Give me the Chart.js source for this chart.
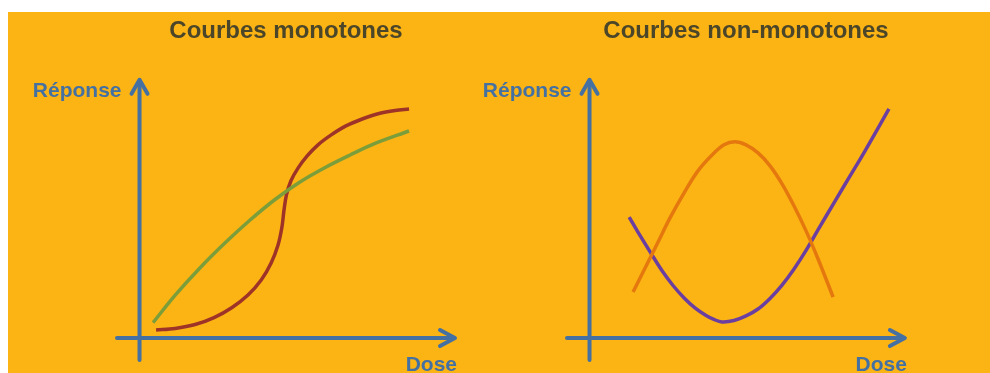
<!DOCTYPE html>
<html lang="fr">
<head>
<meta charset="utf-8">
<title>Courbes dose-réponse</title>
<script src="https://cdn.jsdelivr.net/npm/chart.js@4.4.1/dist/chart.umd.min.js"></script>
<style>
  html, body { margin: 0; padding: 0; background: #ffffff; }
  body { width: 990px; height: 373px; position: relative; overflow: hidden; }
  #fond { position: absolute; left: 8px; top: 12px; width: 982px; height: 361px; background: #fcb414; }
  .panneau { position: absolute; top: 12px; height: 361px; }
  #p-gauche { left: 8px; width: 462px; }
  #p-droite { left: 470px; width: 520px; }
</style>
</head>
<body>
<div id="fond"></div>
<div class="panneau" id="p-gauche"><canvas id="chartMonotones"></canvas></div>
<div class="panneau" id="p-droite"><canvas id="chartNonMonotones"></canvas></div>

<script>
// étendue des axes (unités de dose / réponse)
const axeDose = [-0.75, 10.5];
const axeReponse = [-0.95, 11.2];

// courbes monotones
const doseVert = [0.45, 1.18, 2.01, 2.85, 3.68, 4.51, 5.34, 6.18, 7.01, 7.84, 8.97];
const reponseVert = [0.67, 1.85, 3.04, 4.13, 5.12, 6.01, 6.77, 7.40, 7.94, 8.44, 8.98];

const doseRouge = [0.55, 1.18, 1.85, 2.48, 3.08, 3.61, 4.05, 4.38, 4.61, 4.74, 4.81,
                   4.89, 5.04, 5.28, 5.58, 5.94, 6.38, 6.87, 7.41, 7.97, 8.51, 8.97];
const reponseRouge = [0.35, 0.42, 0.59, 0.89, 1.33, 1.87, 2.52, 3.26, 4.04, 4.82, 5.56,
                      6.21, 6.82, 7.38, 7.90, 8.38, 8.81, 9.20, 9.50, 9.74, 9.87, 9.93];

// courbes non-monotones
const doseOrange = [1.45, 1.85, 2.25, 2.68, 3.15, 3.61, 4.08, 4.48, 4.84, 5.21, 5.61,
                    6.01, 6.41, 6.81, 7.21, 7.61, 8.11];
const reponseOrange = [2.00, 3.04, 4.08, 5.21, 6.30, 7.25, 7.94, 8.38, 8.51, 8.38, 8.03,
                       7.47, 6.69, 5.73, 4.65, 3.43, 1.78];

const doseViolet = [1.32, 1.68, 2.05, 2.41, 2.78, 3.15, 3.51, 3.88, 4.14, 4.41, 4.81,
                    5.21, 5.61, 6.01, 6.41, 6.81, 7.21, 7.67, 8.17, 8.67, 9.17, 9.97];
const reponseViolet = [5.25, 4.45, 3.67, 2.93, 2.28, 1.74, 1.31, 0.98, 0.81, 0.70, 0.76,
                       0.96, 1.26, 1.72, 2.30, 3.00, 3.80, 4.83, 5.93, 7.02, 8.11, 9.94];

const BLEU = '#4470a2';
const TITRE = '#4b4629';

function points(xs, ys) {
  return xs.map((x, i) => ({ x: x, y: ys[i] }));
}

function courbe(xs, ys, couleur) {
  return {
    data: points(xs, ys),
    showLine: true,
    borderColor: couleur,
    borderWidth: 3.5,
    pointRadius: 0,
    tension: 0.35,
    fill: false
  };
}

// axes fléchés + libellés "Réponse" / "Dose"
const axesFleches = {
  id: 'axesFleches',
  beforeDatasetsDraw(chart) {
    const { ctx, scales: { x, y } } = chart;
    const x0 = x.getPixelForValue(0);
    const y0 = y.getPixelForValue(0);
    const xa = x.getPixelForValue(axeDose[0]);
    const xb = x.getPixelForValue(axeDose[1]);
    const ya = y.getPixelForValue(axeReponse[0]);
    const yb = y.getPixelForValue(axeReponse[1]);

    ctx.save();
    ctx.strokeStyle = BLEU;
    ctx.lineWidth = 4;
    ctx.lineCap = 'round';
    ctx.lineJoin = 'round';

    ctx.beginPath();
    ctx.moveTo(xa, y0);
    ctx.lineTo(xb - 2, y0);
    ctx.moveTo(x0, ya);
    ctx.lineTo(x0, yb + 2);
    ctx.stroke();

    ctx.beginPath();
    ctx.moveTo(xb - 15, y0 - 8);
    ctx.lineTo(xb, y0);
    ctx.lineTo(xb - 15, y0 + 8);
    ctx.moveTo(x0 - 8, yb + 14);
    ctx.lineTo(x0, yb);
    ctx.lineTo(x0 + 8, yb + 14);
    ctx.stroke();

    ctx.fillStyle = BLEU;
    ctx.font = 'bold 21px "Liberation Sans", Arial, sans-serif';
    ctx.textBaseline = 'middle';
    ctx.textAlign = 'right';
    ctx.fillText('Réponse', x0 - 18, yb + 11);
    ctx.fillText('Dose', xb + 2, y0 + 27);
    ctx.restore();
  }
};

function options(titre, xMax, marge) {
  return {
    responsive: true,
    maintainAspectRatio: false,
    animation: false,
    layout: { padding: marge },
    scales: {
      x: { type: 'linear', display: false, min: axeDose[0], max: xMax },
      y: { type: 'linear', display: false, min: axeReponse[0], max: axeReponse[1] }
    },
    plugins: {
      legend: { display: false },
      tooltip: { enabled: false },
      title: {
        display: true,
        text: titre,
        color: TITRE,
        font: { family: '"Liberation Sans", Arial, sans-serif', size: 24, weight: 'bold', lineHeight: 1.2 },
        padding: { top: 5, bottom: 34 }
      }
    }
  };
}

new Chart(document.getElementById('chartMonotones'), {
  type: 'scatter',
  data: {
    datasets: [
      courbe(doseVert, reponseVert, '#7c9e3a'),
      courbe(doseRouge, reponseRouge, '#9e3328')
    ]
  },
  options: options('Courbes monotones', axeDose[1], { left: 109, right: 15, top: 0, bottom: 13 }),
  plugins: [axesFleches]
});

new Chart(document.getElementById('chartNonMonotones'), {
  type: 'scatter',
  data: {
    datasets: [
      courbe(doseOrange, reponseOrange, '#e4780e'),
      courbe(doseViolet, reponseViolet, '#6b3fa0')
    ]
  },
  options: options('Courbes non-monotones', 11.17, { left: 97, right: 65, top: 0, bottom: 13 }),
  plugins: [axesFleches]
});
</script>
</body>
</html>
